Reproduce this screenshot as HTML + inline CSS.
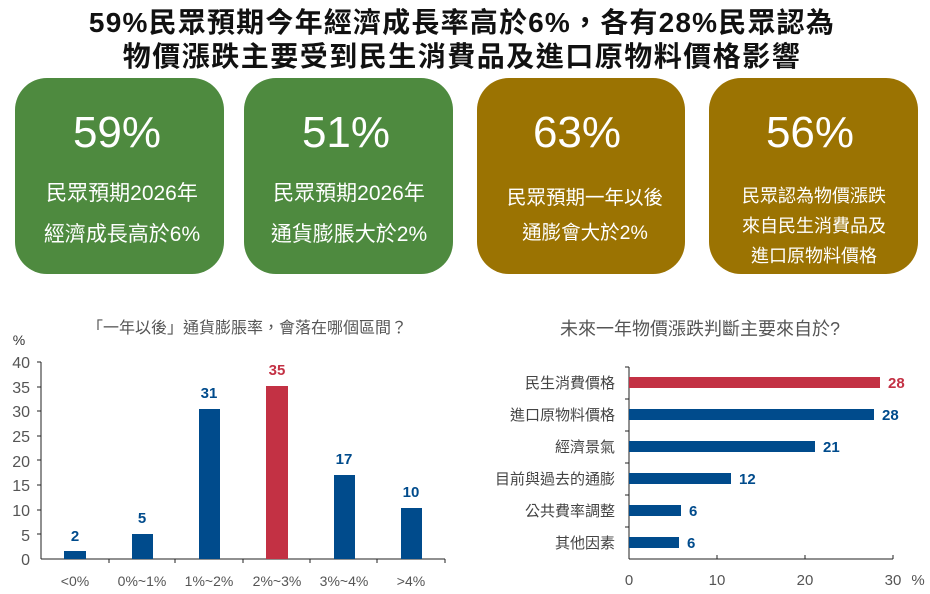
<!DOCTYPE html>
<html><head><meta charset="utf-8"><style>
body{margin:0;background:#fff;}
svg{display:block;}
text{font-family:"Liberation Sans","Noto Sans CJK TC",sans-serif;}
</style></head><body>
<svg width="930" height="594" viewBox="0 0 930 594">
<g font-weight="bold" font-size="28" fill="#111" text-anchor="middle">
<text x="462" y="32" letter-spacing="1.2">59%民眾預期今年經濟成長率高於6%，各有28%民眾認為</text>
<text x="462" y="66" letter-spacing="1.5">物價漲跌主要受到民生消費品及進口原物料價格影響</text>
</g>
<rect x="15" y="78" width="209" height="196" rx="32" fill="#4e8a3f"/>
<rect x="244" y="78" width="209" height="196" rx="32" fill="#4e8a3f"/>
<rect x="477" y="78" width="208" height="196" rx="32" fill="#9b7302"/>
<rect x="709" y="78" width="209" height="196" rx="32" fill="#9b7302"/>
<g fill="#fff" text-anchor="middle">
<g font-size="44"><text x="117" y="147">59%</text><text x="346" y="147">51%</text><text x="577" y="147">63%</text><text x="810" y="147">56%</text></g>
<g font-size="21"><text x="122" y="200">民眾預期2026年</text><text x="122" y="241">經濟成長高於6%</text>
<text x="349" y="200">民眾預期2026年</text><text x="349" y="241">通貨膨脹大於2%</text></g>
<g font-size="19.5"><text x="585" y="204">民眾預期一年以後</text><text x="585" y="239">通膨會大於2%</text></g>
<g font-size="18"><text x="814" y="202">民眾認為物價漲跌</text><text x="814" y="232">來自民生消費品及</text><text x="814" y="262">進口原物料價格</text></g>
</g>
<!-- left chart -->
<text x="247" y="333" font-size="16" fill="#555" text-anchor="middle">「一年以後」通貨膨脹率，會落在哪個區間？</text>
<text x="19" y="345" font-size="14" fill="#333" text-anchor="middle">%</text>
<g font-size="16" fill="#555" text-anchor="end">
<text x="30" y="565">0</text><text x="30" y="541">5</text><text x="30" y="516">10</text><text x="30" y="491">15</text><text x="30" y="467">20</text><text x="30" y="442">25</text><text x="30" y="417">30</text><text x="30" y="393">35</text><text x="30" y="368">40</text>
</g>
<g stroke="#222" stroke-width="1">
<line x1="41" y1="362" x2="41" y2="559"/><line x1="41" y1="559" x2="445" y2="559"/>
<line x1="37" y1="362" x2="41" y2="362"/><line x1="37" y1="387" x2="41" y2="387"/><line x1="37" y1="411" x2="41" y2="411"/><line x1="37" y1="436" x2="41" y2="436"/><line x1="37" y1="460" x2="41" y2="460"/><line x1="37" y1="485" x2="41" y2="485"/><line x1="37" y1="510" x2="41" y2="510"/><line x1="37" y1="534" x2="41" y2="534"/>
<line x1="109" y1="559" x2="109" y2="563"/><line x1="175" y1="559" x2="175" y2="563"/><line x1="243" y1="559" x2="243" y2="563"/><line x1="310" y1="559" x2="310" y2="563"/><line x1="377" y1="559" x2="377" y2="563"/><line x1="445" y1="559" x2="445" y2="563"/>
</g>
<rect x="64" y="551" width="22" height="8" fill="#004b8c"/>
<rect x="132" y="534" width="21" height="25" fill="#004b8c"/>
<rect x="199" y="409" width="21" height="150" fill="#004b8c"/>
<rect x="266" y="386" width="22" height="173" fill="#c33144"/>
<rect x="334" y="475" width="21" height="84" fill="#004b8c"/>
<rect x="401" y="508" width="21" height="51" fill="#004b8c"/>
<g font-size="15" font-weight="bold" text-anchor="middle" fill="#004b8c">
<text x="75" y="541">2</text><text x="142" y="523">5</text><text x="209" y="398">31</text><text x="277" y="375" fill="#c33144">35</text><text x="344" y="464">17</text><text x="411" y="497">10</text>
</g>
<g font-size="14" fill="#555" text-anchor="middle">
<text x="75" y="586">&lt;0%</text><text x="142" y="586">0%~1%</text><text x="209" y="586">1%~2%</text><text x="277" y="586">2%~3%</text><text x="344" y="586">3%~4%</text><text x="411" y="586">&gt;4%</text>
</g>
<!-- right chart -->
<text x="700" y="335" font-size="18" fill="#555" text-anchor="middle">未來一年物價漲跌判斷主要來自於?</text>
<g stroke="#222" stroke-width="1">
<line x1="629" y1="367" x2="629" y2="559"/><line x1="629" y1="559" x2="893" y2="559"/>
<line x1="625" y1="367" x2="629" y2="367"/><line x1="625" y1="399" x2="629" y2="399"/><line x1="625" y1="431" x2="629" y2="431"/><line x1="625" y1="463" x2="629" y2="463"/><line x1="625" y1="495" x2="629" y2="495"/><line x1="625" y1="527" x2="629" y2="527"/>
<line x1="717" y1="555" x2="717" y2="559"/><line x1="805" y1="555" x2="805" y2="559"/><line x1="893" y1="555" x2="893" y2="559"/>
</g>
<rect x="629" y="377" width="251" height="11" fill="#c33144"/>
<rect x="629" y="409" width="245" height="11" fill="#004b8c"/>
<rect x="629" y="441" width="186" height="11" fill="#004b8c"/>
<rect x="629" y="473" width="102" height="11" fill="#004b8c"/>
<rect x="629" y="505" width="52" height="11" fill="#004b8c"/>
<rect x="629" y="537" width="50" height="11" fill="#004b8c"/>
<g font-size="15" font-weight="bold" fill="#004b8c">
<text x="888" y="388" fill="#c33144">28</text><text x="882" y="420">28</text><text x="823" y="452">21</text><text x="739" y="484">12</text><text x="689" y="516">6</text><text x="687" y="548">6</text>
</g>
<g font-size="15" fill="#444" text-anchor="end">
<text x="615" y="388">民生消費價格</text><text x="615" y="420">進口原物料價格</text><text x="615" y="452">經濟景氣</text><text x="615" y="484">目前與過去的通膨</text><text x="615" y="516">公共費率調整</text><text x="615" y="548">其他因素</text>
</g>
<g font-size="15" fill="#555" text-anchor="middle">
<text x="629" y="585">0</text><text x="717" y="585">10</text><text x="805" y="585">20</text><text x="893" y="585">30</text><text x="918" y="585">%</text>
</g>
</svg>
</body></html>
